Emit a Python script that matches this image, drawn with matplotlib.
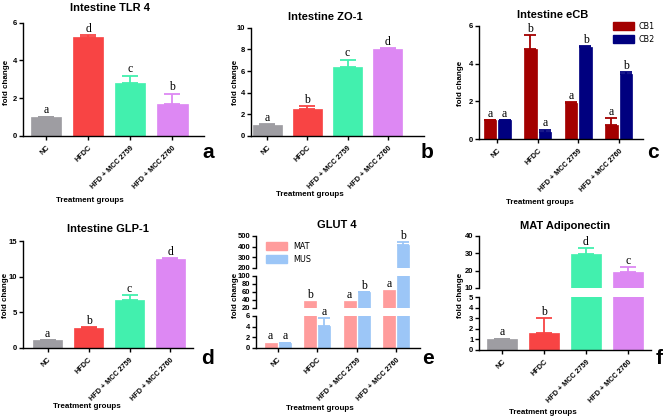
import matplotlib
matplotlib.use("Agg")
import matplotlib.pyplot as plt

W, H = 668, 418

groups = ["NC", "HFDC", "HFD + MCC 2759", "HFD + MCC 2760"]
group_colors = ["#9e9da2", "#f84444", "#42f0ae", "#dd88f3"]

# panel a - TLR 4
tlr4 = [1.0, 5.25, 2.8, 1.7]
tlr4_err = [0.02, 0.1, 0.4, 0.55]
tlr4_sig = ["a", "d", "c", "b"]

# panel b - ZO-1
zo1 = [1.05, 2.5, 6.4, 8.05]
zo1_err = [0.02, 0.25, 0.65, 0.05]
zo1_sig = ["a", "b", "c", "d"]

# panel c - eCB
cb1 = [1.0, 4.8, 1.9, 0.75]
cb1_err = [0.02, 0.7, 0.05, 0.35]
cb1_sig = ["a", "b", "a", "a"]
cb2 = [1.0, 0.35, 4.9, 3.45]
cb2_err = [0.02, 0.15, 0.05, 0.1]
cb2_sig = ["a", "a", "b", "b"]

# panel d - GLP-1
glp1 = [1.1, 2.8, 6.7, 12.5]
glp1_err = [0.03, 0.1, 0.7, 0.1]
glp1_sig = ["a", "b", "c", "d"]

# panel e - GLUT 4
mat = [1.0, 37.0, 37.0, 65.0]
mat_err = [0.02, 0.5, 0.5, 0.5]
mat_sig = ["a", "b", "a", "a"]
mus = [1.0, 4.1, 60.0, 415.0]
mus_err = [0.02, 1.5, 0.5, 25.0]
mus_sig = ["a", "a", "b", "b"]

# panel f - Adiponectin
adipo = [1.05, 1.6, 29.5, 19.2]
adipo_err = [0.02, 1.4, 3.5, 2.8]
adipo_sig = ["a", "b", "d", "c"]

SANS = "Liberation Sans"
SERIF = "Liberation Serif"

fig = plt.figure(figsize=(W / 100, H / 100), dpi=100)


def px_axes(left, top, right, bottom):
    return fig.add_axes([left / W, 1 - bottom / H, (right - left) / W, (bottom - top) / H])


def style(ax, bottom=True):
    for s in ["top", "right"]:
        ax.spines[s].set_visible(False)
    ax.spines["left"].set_linewidth(1.0)
    ax.tick_params(axis="y", direction="out", length=3, width=1, pad=1, labelsize=5.5)
    for t in ax.get_yticklabels():
        t.set_fontweight("bold")
        t.set_fontfamily(SANS)
    if bottom:
        ax.spines["bottom"].set_linewidth(1.0)
        ax.tick_params(axis="x", direction="out", length=3, width=1, pad=3)
        ax.set_xticks(range(4))
        ax.set_xticklabels(groups, rotation=45, ha="right", rotation_mode="anchor",
                           fontsize=5.2, fontweight="bold", fontfamily=SANS)
    else:
        ax.spines["bottom"].set_visible(False)
        ax.set_xticks([])


def ftext(x, y, s, **kw):
    fig.text(x / W, 1 - y / H, s, **kw)


def labels(title, tx, ty, gx, gy, fx, fy, letter, lx, ly):
    ftext(tx, ty, title, ha="center", va="center", fontsize=8, fontweight="bold", fontfamily=SANS)
    ftext(gx, gy, "Treatment groups", ha="center", va="center", fontsize=5.8,
          fontweight="bold", fontfamily=SANS)
    ftext(fx, fy, "fold change", ha="center", va="center", rotation=90, fontsize=5.8,
          fontweight="bold", fontfamily=SANS)
    ftext(lx, ly, letter, ha="center", va="center", fontsize=15, fontweight="bold",
          fontfamily=SANS)


def bars(axes_list, xs, vals, errs, cols, width, capsize, sigs, lims, off):
    for x, v, e, c, s in zip(xs, vals, errs, cols, sigs):
        top = v + e
        for ax in axes_list:
            ax.bar(x, v, width=width, color=c, edgecolor=c, linewidth=0.5, zorder=2)
            ax.errorbar(x, v, yerr=[[0], [e]], color=c, elinewidth=1.3, capsize=capsize,
                        capthick=1.3, zorder=1)
        for ax, (lo, hi) in zip(axes_list, lims):
            if lo <= top <= hi:
                ax.annotate(s, (x, top), xytext=(0, off), textcoords="offset points",
                            ha="center", va="bottom", fontsize=8.5, fontfamily=SERIF,
                            annotation_clip=False)
                break


# ---- a ----
ax = px_axes(22.7, 22.7, 204, 136)
bars([ax], range(4), tlr4, tlr4_err, group_colors, 0.72, 6, tlr4_sig, [(0, 6)], 0.3)
ax.set_xlim(-0.55, 3.75)
ax.set_ylim(0, 6)
ax.set_yticks([0, 2, 4, 6])
style(ax)
labels("Intestine TLR 4", 110, 8, 90, 200, 7, 82, "a", 208, 152)

# ---- b ----
ax = px_axes(251, 27.7, 424, 136)
bars([ax], range(4), zo1, zo1_err, group_colors, 0.72, 6, zo1_sig, [(0, 10)], 0.3)
ax.set_xlim(-0.4, 3.9)
ax.set_ylim(0, 10)
ax.set_yticks([0, 2, 4, 6, 8, 10])
style(ax)
labels("Intestine ZO-1", 325, 17, 310, 195, 235, 82, "b", 427, 152)

# ---- c ----
ax = px_axes(479, 26, 643, 139)
bars([ax], [i - 0.18 for i in range(4)], cb1, cb1_err, ["#a30000"] * 4, 0.31, 4, cb1_sig,
     [(0, 6)], 0.1)
bars([ax], [i + 0.18 for i in range(4)], cb2, cb2_err, ["#00007f"] * 4, 0.31, 4, cb2_sig,
     [(0, 6)], 0.1)
ax.set_xlim(-0.45, 3.6)
ax.set_ylim(0, 6)
ax.set_yticks([0, 2, 4, 6])
style(ax)
leg = ax.legend([plt.Rectangle((0, 0), 1, 1, color="#a30000"),
                 plt.Rectangle((0, 0), 1, 1, color="#00007f")], ["CB1", "CB2"],
                loc="upper left", bbox_to_anchor=(613 / W, 1 - 22 / H),
                bbox_transform=fig.transFigure, frameon=False, fontsize=5.8,
                handlelength=2.6, handleheight=1.1, labelspacing=0.45, handletextpad=0.6,
                borderaxespad=0, borderpad=0)
labels("Intestine eCB", 553, 15, 540, 202, 461, 83, "c", 653, 152)

# ---- d ----
ax = px_axes(23, 241, 193, 348)
bars([ax], range(4), glp1, glp1_err, group_colors, 0.72, 6, glp1_sig, [(0, 15)], 0.3)
ax.set_xlim(-0.6, 3.55)
ax.set_ylim(0, 15)
ax.set_yticks([0, 5, 10, 15])
style(ax)
labels("Intestine GLP-1", 108, 229, 87, 407, 6, 295, "d", 208, 358)

# ---- e (broken axis) ----
e_lims = [(0, 6), (20, 100), (200, 500)]
e_bot = px_axes(256, 316, 420, 348)
e_mid = px_axes(256, 276, 420, 308)
e_top = px_axes(256, 236, 420, 268)
e_axes = [e_bot, e_mid, e_top]
bars(e_axes, [i - 0.18 for i in range(4)], mat, mat_err, ["#ff9c9c"] * 4, 0.3, 0, mat_sig,
     e_lims, 0.2)
bars(e_axes, [i + 0.18 for i in range(4)], mus, mus_err, ["#9cc6f7"] * 4, 0.3, 4, mus_sig,
     e_lims, 0.2)
for a_, (lo, hi), tk in zip(e_axes, e_lims, [[0, 2, 4, 6], [20, 40, 60, 80, 100],
                                              [200, 300, 400, 500]]):
    a_.set_xlim(-0.55, 3.6)
    a_.set_ylim(lo, hi)
    a_.set_yticks(tk)
    style(a_, bottom=(a_ is e_bot))
e_top.legend([plt.Rectangle((0, 0), 1, 1, color="#ff9c9c"),
              plt.Rectangle((0, 0), 1, 1, color="#9cc6f7")], ["MAT", "MUS"],
             loc="upper left", bbox_to_anchor=(266 / W, 1 - 242 / H),
             bbox_transform=fig.transFigure, frameon=False, fontsize=5.8,
             handlelength=2.6, handleheight=1.1, labelspacing=0.45, handletextpad=0.8,
             borderaxespad=0, borderpad=0)
labels("GLUT 4", 337, 225, 320, 408, 235, 295, "e", 428, 358)

# ---- f (broken axis) ----
f_lims = [(0, 5), (10, 40)]
f_bot = px_axes(479, 297, 651, 350)
f_top = px_axes(479, 236, 651, 288)
f_axes = [f_bot, f_top]
bars(f_axes, range(4), adipo, adipo_err, group_colors, 0.72, 6, adipo_sig, f_lims, 0.2)
for a_, (lo, hi), tk in zip(f_axes, f_lims, [[0, 1, 2, 3, 4, 5], [10, 20, 30, 40]]):
    a_.set_xlim(-0.55, 3.55)
    a_.set_ylim(lo, hi)
    a_.set_yticks(tk)
    style(a_, bottom=(a_ is f_bot))
labels("MAT Adiponectin", 565, 226, 543, 412, 461, 295, "f", 659, 359)

fig.savefig("out.png", dpi=100)
